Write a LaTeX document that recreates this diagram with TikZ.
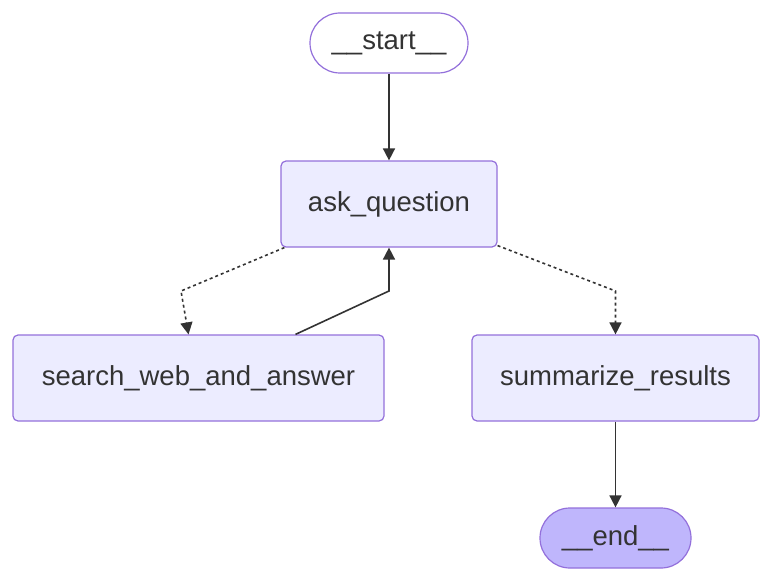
\documentclass[tikz,border=0pt]{standalone}
\usepackage{fontspec}
\setmainfont{Liberation Sans}
\usepackage{tikz}
\usetikzlibrary{calc,arrows.meta}
\definecolor{ink}{HTML}{333333}
\definecolor{lilac}{HTML}{9370DB}
\definecolor{pale}{HTML}{ECECFF}
\definecolor{endfill}{HTML}{BFB6FC}
\tikzset{
  stepnode/.style={draw=lilac, fill=pale, line width=1.2pt, rounded corners=5pt,
    minimum height=86pt, text=ink, font=\fontsize{27.5}{33}\selectfont},
  terminal/.style={stepnode, rounded corners=30pt, minimum height=60pt},
  flow/.style={draw=ink, line width=1.6pt, -{Triangle[length=12pt,width=12pt]}},
  maybe/.style={flow, dash pattern=on 3pt off 3pt},
}
\begin{document}
\begin{tikzpicture}[x=1pt,y=-1pt]
  \useasboundingbox (0,0) rectangle (772,578);

  \node[terminal, fill=white, minimum width=158pt] (start) at (389,43) {\_\_start\_\_};
  \node[stepnode, minimum width=216pt] (ask) at (389,204) {ask\_question};
  \node[stepnode, minimum width=371pt] (search) at (198.5,378) {search\_web\_and\_answer};
  \node[stepnode, minimum width=287pt] (summary) at (615.5,378) {summarize\_results};
  \node[terminal, fill=endfill, minimum width=151pt] (end) at (615.5,538) {\_\_end\_\_};

  \coordinate (bendL) at (181,291);
  \coordinate (bendM) at (389,291);
  \coordinate (bendR) at (615.5,291);

  \draw[flow] (start) -- (ask);
  \draw[maybe] ($(ask.south west)+(4,0)$) -- (bendL) -- ($(search.north)+(-10,0)$);
  \draw[flow] ($(search.north)+(97,0)$) -- (bendM) -- (ask.south);
  \draw[maybe] ($(ask.south east)+(0,-2)$) -- (bendR) -- (summary.north);
  \draw[flow] (summary) -- (end);
\end{tikzpicture}
\end{document}
